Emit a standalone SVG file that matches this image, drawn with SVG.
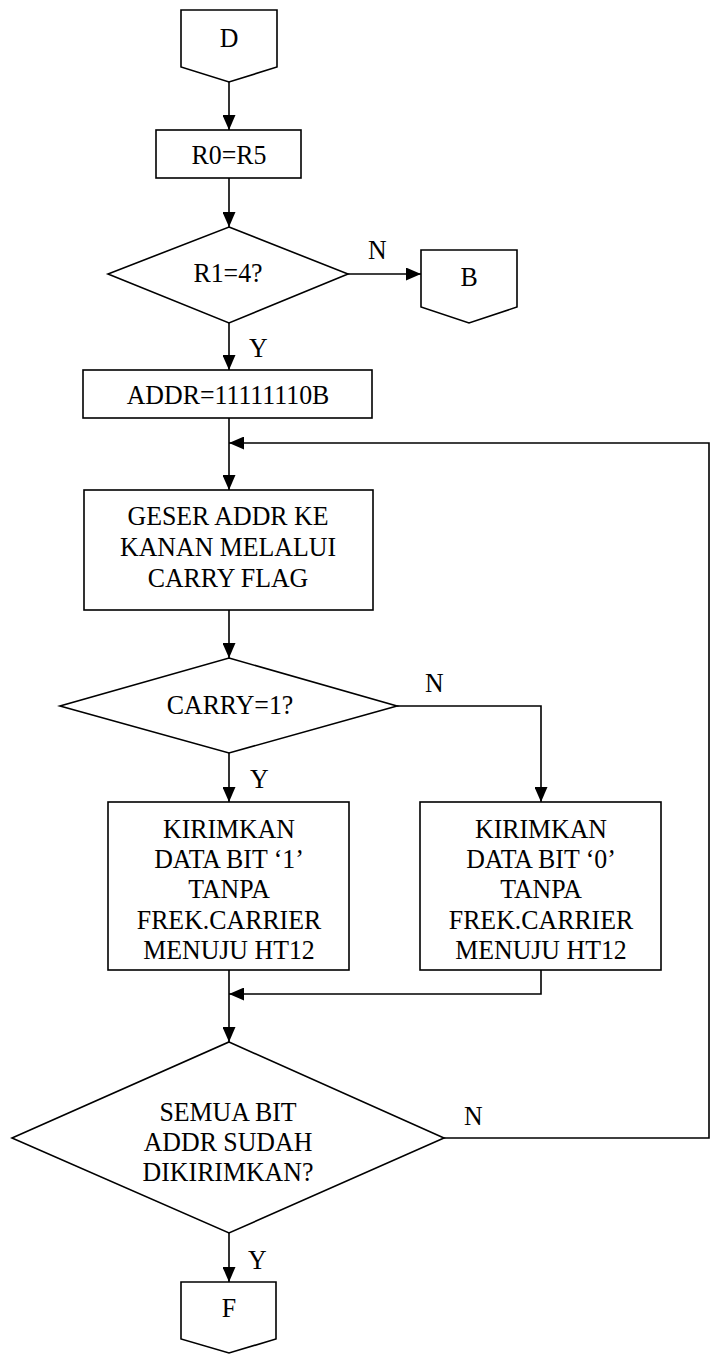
<svg xmlns="http://www.w3.org/2000/svg" width="711" height="1354" viewBox="0 0 711 1354">
<defs>
<marker id="arr" markerUnits="userSpaceOnUse" markerWidth="15" markerHeight="13" refX="15" refY="6.5" orient="auto">
<path d="M0,0 L15,6.5 L0,13 Z" fill="#000"/>
</marker>
<style>
.s{fill:#fff;stroke:#000;stroke-width:1.6}
.c{fill:none;stroke:#000;stroke-width:1.6}
.t{font-family:"Liberation Serif","Times New Roman",serif;font-size:27.5px;fill:#000;text-anchor:middle}
.l{font-family:"Liberation Serif","Times New Roman",serif;font-size:27.5px;fill:#000}
</style>
</defs>
<rect width="711" height="1354" fill="#fff"/>
<g id="connectors">
<path class="c" d="M229,82 V130" marker-end="url(#arr)"/>
<path class="c" d="M229,178 V227" marker-end="url(#arr)"/>
<path class="c" d="M348,274 H421" marker-end="url(#arr)"/>
<path class="c" d="M229,323 V370" marker-end="url(#arr)"/>
<path class="c" d="M229,418 V490" marker-end="url(#arr)"/>
<path class="c" d="M444,1138 H709 V443 H229" marker-end="url(#arr)"/>
<path class="c" d="M229,610 V658" marker-end="url(#arr)"/>
<path class="c" d="M229,753 V802" marker-end="url(#arr)"/>
<path class="c" d="M397,706 H541 V802" marker-end="url(#arr)"/>
<path class="c" d="M229,970 V1042" marker-end="url(#arr)"/>
<path class="c" d="M541,970 V994 H229" marker-end="url(#arr)"/>
<path class="c" d="M229,1233 V1282" marker-end="url(#arr)"/>
<text class="l" transform="translate(368,259) scale(.94,1)">N</text>
<text class="l" transform="translate(249,357) scale(.94,1)">Y</text>
<text class="l" transform="translate(425,692) scale(.94,1)">N</text>
<text class="l" transform="translate(250,788) scale(.94,1)">Y</text>
<text class="l" transform="translate(464,1125) scale(.94,1)">N</text>
<text class="l" transform="translate(248,1269) scale(.94,1)">Y</text>
</g>
<g id="D">
<path class="s" d="M181,10 H277 V67 L229,82 L181,67 Z"/>
<text class="t" transform="translate(229,47) scale(.94,1)">D</text>
</g>
<g id="R0R5">
<rect class="s" x="156" y="130" width="145" height="48"/>
<text class="t" transform="translate(229,164) scale(.94,1)">R0=R5</text>
</g>
<g id="R1eq4">
<path class="s" d="M229,227 L348,274 L229,323 L108,274 Z"/>
<text class="t" transform="translate(228,282) scale(.94,1)">R1=4?</text>
</g>
<g id="B">
<path class="s" d="M421,250 H517 V307 L469,323 L421,307 Z"/>
<text class="t" transform="translate(469,286) scale(.94,1)">B</text>
</g>
<g id="ADDR">
<rect class="s" x="83" y="370" width="289" height="48"/>
<text class="t" transform="translate(228,404) scale(.94,1)">ADDR=11111110B</text>
</g>
<g id="GESER">
<rect class="s" x="84" y="490" width="289" height="120"/>
<text class="t" transform="translate(228,525) scale(.94,1)">GESER ADDR KE</text>
<text class="t" transform="translate(228,556) scale(.94,1)">KANAN MELALUI</text>
<text class="t" transform="translate(228,587) scale(.94,1)">CARRY FLAG</text>
</g>
<g id="CARRY">
<path class="s" d="M229,658 L397,706 L229,753 L60,706 Z"/>
<text class="t" transform="translate(230,714) scale(.94,1)">CARRY=1?</text>
</g>
<g id="KIRIM1">
<rect class="s" x="108" y="802" width="241" height="168"/>
<text class="t" transform="translate(229,838) scale(.94,1)">KIRIMKAN</text>
<text class="t" transform="translate(229,868) scale(.94,1)">DATA BIT ‘1’</text>
<text class="t" transform="translate(229,898) scale(.94,1)">TANPA</text>
<text class="t" transform="translate(229,929) scale(.94,1)">FREK.CARRIER</text>
<text class="t" transform="translate(229,959) scale(.94,1)">MENUJU HT12</text>
</g>
<g id="KIRIM0">
<rect class="s" x="420" y="802" width="241" height="168"/>
<text class="t" transform="translate(541,838) scale(.94,1)">KIRIMKAN</text>
<text class="t" transform="translate(541,868) scale(.94,1)">DATA BIT ‘0’</text>
<text class="t" transform="translate(541,898) scale(.94,1)">TANPA</text>
<text class="t" transform="translate(541,929) scale(.94,1)">FREK.CARRIER</text>
<text class="t" transform="translate(541,959) scale(.94,1)">MENUJU HT12</text>
</g>
<g id="SEMUA">
<path class="s" d="M229,1042 L444,1138 L229,1233 L12,1138 Z"/>
<text class="t" transform="translate(228,1121) scale(.94,1)">SEMUA BIT</text>
<text class="t" transform="translate(228,1151) scale(.94,1)">ADDR SUDAH</text>
<text class="t" transform="translate(228,1181) scale(.94,1)">DIKIRIMKAN?</text>
</g>
<g id="F">
<path class="s" d="M181,1282 H276 V1339 L229,1353 L181,1339 Z"/>
<text class="t" transform="translate(229,1317) scale(.94,1)">F</text>
</g>
</svg>
